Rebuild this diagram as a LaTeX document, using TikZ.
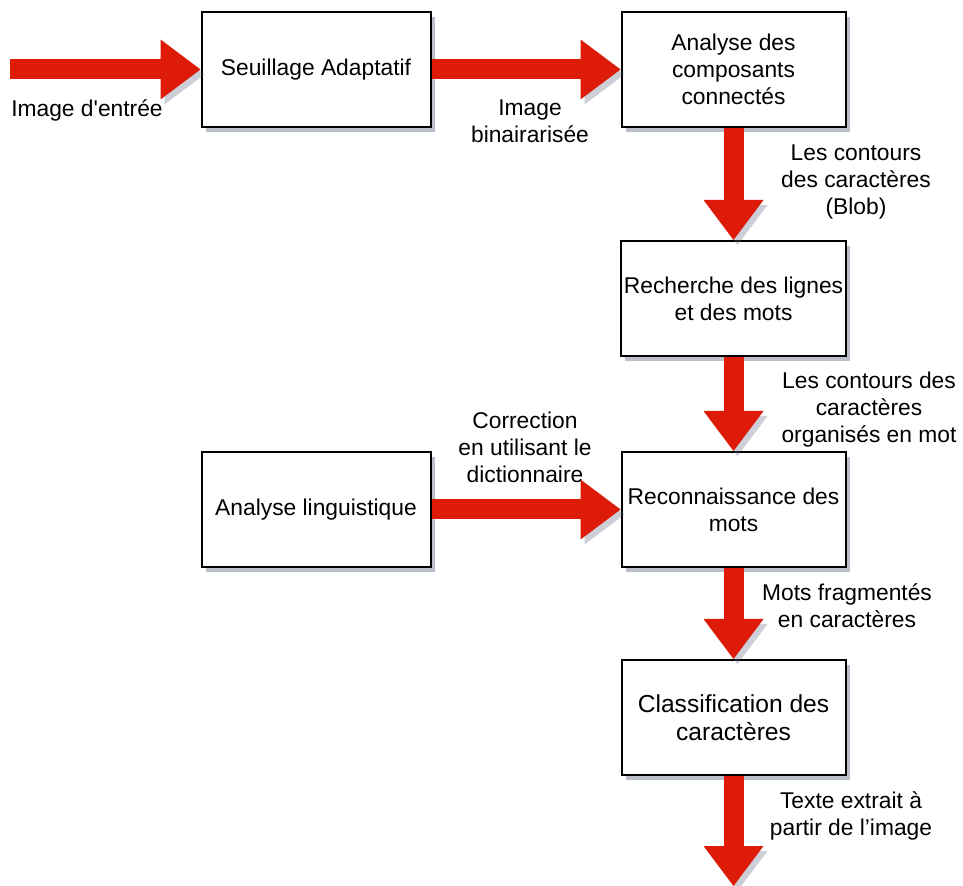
\documentclass[tikz,border=0pt]{standalone}
\usepackage{fontspec}
\setmainfont{Liberation Sans}
\usetikzlibrary{arrows.meta,shadows,positioning}
\definecolor{flowred}{RGB}{222,26,8}
\definecolor{shadowc}{RGB}{85,95,125}
\tikzset{
  box/.style={draw, line width=1pt, fill=white, minimum width=112pt,
    minimum height=57.5pt, inner xsep=1.5pt, align=center, font=\fontsize{11.4}{13.5}\selectfont,
    drop shadow={shadow xshift=2pt, shadow yshift=-2.5pt, fill=shadowc, opacity=.4}},
  wide/.style={minimum width=114.5pt},
  lbl/.style={align=center, font=\fontsize{11.4}{13.5}\selectfont},
  flow/.style={draw, color=flowred, line width=10pt,
    -{Triangle[length=20pt,width=30pt,line width=0pt]},
    preaction={draw, color=shadowc, opacity=.3, transform canvas={shift={(2pt,-2.5pt)}}}}
}
\begin{document}
\begin{tikzpicture}[x=0.5pt,y=-0.5pt]
  \useasboundingbox (0,0) rectangle (963,886);

  % boxes
  \node[box,wide] (seuil) at (316,69.5) {Seuillage Adaptatif};
  \node[box] (anal) at (733.5,69.5) {Analyse des\\composants\\connectés};
  \node[box] (rech) at (733.5,298.5) {Recherche des lignes\\et des mots};
  \node[box] (reco) at (733.5,509.5) {Reconnaissance des\\mots};
  \node[box,font=\fontsize{12.3}{14}\selectfont] (classif) at (733.5,717.5) {Classification des\\caractères};
  \node[box,wide] (ling) at (316,509.5) {Analyse linguistique};

  \coordinate (src) at (10,69.5);
  \coordinate (sink) at (733.5,886);

  % labels
  \node[lbl] (lblin) at (87,110) {Image d\textquotesingle entrée};
  \node[lbl] (lblbin) at (530,121) {Image\\binairarisée};
  \node[lbl] (lblblob) at (856,182) {Les contours\\des caractères\\(Blob)};
  \node[lbl] (lblmot) at (869,410) {Les contours des\\caractères\\organisés en mot};
  \node[lbl] (lbldict) at (525,447) {Correction\\en utilisant le\\dictionnaire};
  \node[lbl] (lblfrag) at (847,606) {Mots fragmentés\\en caractères};
  \node[lbl] (lbltxt) at (851,816) {Texte extrait à\\partir de l’image};

  \path[every edge/.style=flow]
  (src) edge (seuil)
  (seuil) edge (anal)
  (anal) edge (rech)
  (rech) edge (reco)
  (ling) edge (reco)
  (reco) edge (classif)
  (classif) edge (sink);

\end{tikzpicture}
\end{document}
